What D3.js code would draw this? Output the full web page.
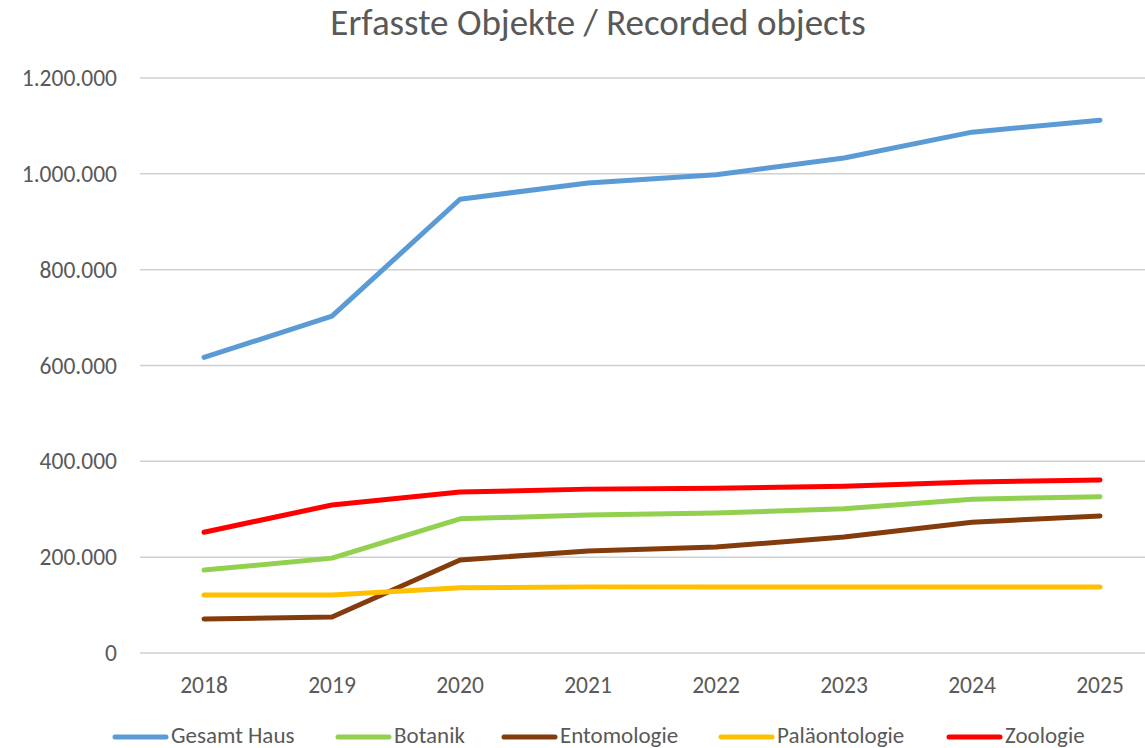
<!DOCTYPE html>
<html>
<head>
<meta charset="utf-8">
<script src="https://cdn.jsdelivr.net/npm/d3@7"></script>
<style>
    body { margin: 0; background: #fff; }
    svg text { font-family: Carlito, "Liberation Sans Narrow", "Open Sans", sans-serif; fill: #595959; }
</style>
</head>
<body>
<div id="chart"></div>
<script>
// data
const years = ["2018", "2019", "2020", "2021", "2022", "2023", "2024", "2025"];
const seriesNames = ["Gesamt Haus", "Botanik", "Entomologie", "Paläontologie", "Zoologie"];
const seriesColors = ["#5B9BD5", "#92D050", "#843C0C", "#FFC000", "#FF0000"];
const gesamtHaus = [617000, 703000, 947000, 981000, 998000, 1033000, 1087000, 1112000];
const botanik = [173000, 198000, 280000, 288000, 292000, 301000, 321000, 326000];
const entomologie = [71000, 75000, 194000, 213000, 221000, 242000, 273000, 286000];
const palaeontologie = [121000, 121000, 136000, 138000, 138000, 138000, 138000, 138000];
const zoologie = [252000, 309000, 336000, 342000, 344000, 348000, 357000, 361000];
const yTicks = [0, 200000, 400000, 600000, 800000, 1000000, 1200000];

const allSeries = [gesamtHaus, botanik, entomologie, palaeontologie, zoologie];
const width = 1145, height = 748;

const svg = d3.select("#chart").append("svg")
    .attr("width", width)
    .attr("height", height);

// title
svg.append("text")
    .attr("x", 598)
    .attr("y", 35)
    .attr("text-anchor", "middle")
    .style("font-size", "37px")
    .text("Erfasste Objekte / Recorded objects");

let x = d3.scaleBand()
    .domain(years)
    .range([140, 1164]);

let y = d3.scaleLinear()
    .domain([0, 1200000])
    .range([653, 78]);

let fmt = v => d3.format(",")(v).replace(/,/g, ".");

// gridlines
svg.append("g")
    .selectAll("line")
    .data(yTicks)
    .enter().append("line")
    .attr("x1", 140)
    .attr("x2", width)
    .attr("y1", d => y(d))
    .attr("y2", d => y(d))
    .style("stroke", "#d0d0d0")
    .style("stroke-width", "1.5px");

// y labels
svg.append("g")
    .selectAll("text")
    .data(yTicks)
    .enter().append("text")
    .attr("x", 117)
    .attr("y", d => y(d) + 8)
    .attr("text-anchor", "end")
    .style("font-size", "23.5px")
    .text(d => fmt(d));

// x labels
svg.append("g")
    .selectAll("text")
    .data(years)
    .enter().append("text")
    .attr("x", d => x(d) + x.bandwidth() / 2)
    .attr("y", 693)
    .attr("text-anchor", "middle")
    .style("font-size", "23.5px")
    .text(d => d);

let line = d3.line()
    .x((d, i) => x(years[i]) + x.bandwidth() / 2)
    .y(d => y(d));

svg.append("g")
    .selectAll("path")
    .data(allSeries)
    .enter().append("path")
    .attr("d", d => line(d))
    .style("fill", "none")
    .style("stroke", (d, i) => seriesColors[i])
    .style("stroke-width", "5px")
    .style("stroke-linecap", "round")
    .style("stroke-linejoin", "round");

// legend (the reference is cropped right under it)
let legendX = [113, 336, 502, 719, 947];
let legend = svg.append("g")
    .selectAll("g")
    .data(seriesNames)
    .enter().append("g")
    .attr("transform", (d, i) => "translate(" + legendX[i] + ",737)");

legend.append("line")
    .attr("x1", 2)
    .attr("x2", 53)
    .style("stroke", (d, i) => seriesColors[i])
    .style("stroke-width", "5px")
    .style("stroke-linecap", "round");

legend.append("text")
    .attr("x", 58)
    .attr("y", 6)
    .style("font-size", "23px")
    .text(d => d);
</script>
</body>
</html>
